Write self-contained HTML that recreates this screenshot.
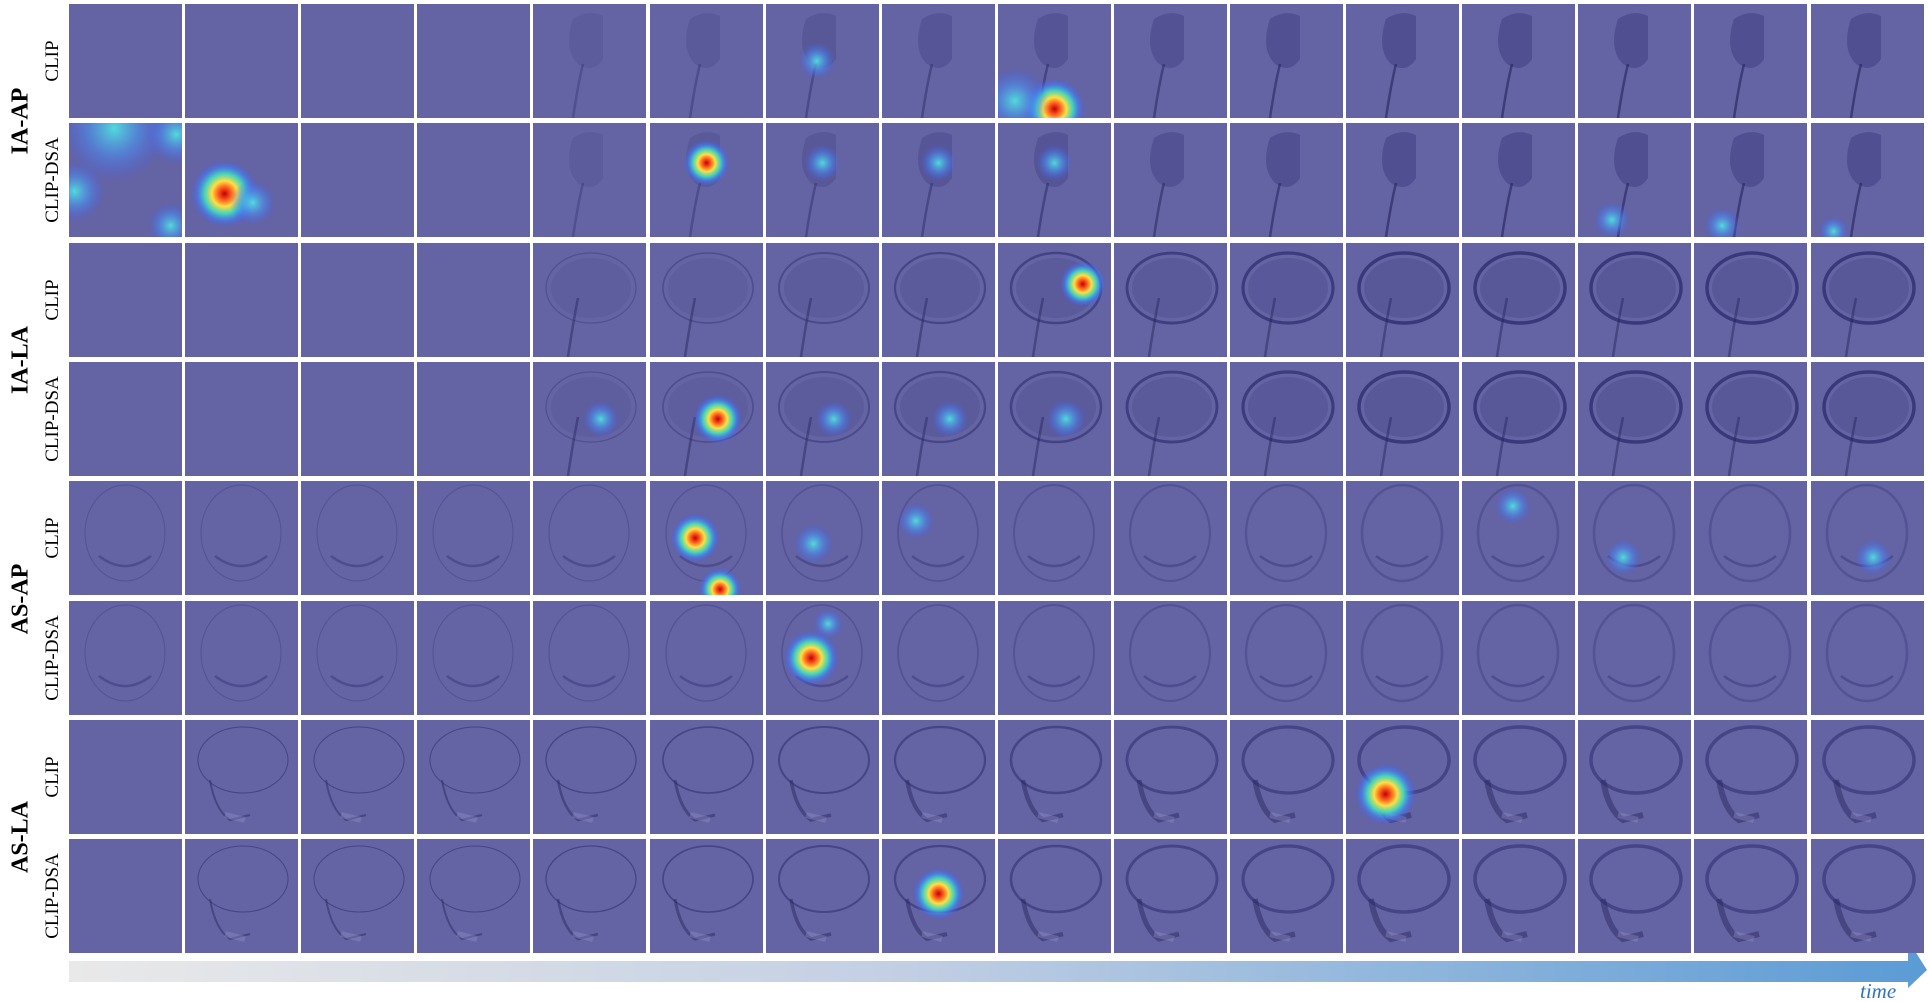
<!DOCTYPE html>
<html><head><meta charset="utf-8">
<style>
html,body{margin:0;padding:0;background:#fff;}
#root{position:relative;width:1928px;height:1002px;overflow:hidden;font-family:"Liberation Serif",serif;}
.tile{position:absolute;background:#6463a3;overflow:hidden;}
.tile svg{position:absolute;left:0;top:0;}
.grp{position:absolute;font-weight:bold;font-size:24px;transform:translate(-50%,-50%) rotate(-90deg);white-space:nowrap;color:#000;}
.sub{position:absolute;font-size:19px;transform:translate(-50%,-50%) rotate(-90deg);white-space:nowrap;color:#000;}
</style></head><body>
<div id="root">
<svg width="1928" height="1002" style="position:absolute;left:0;top:0">
<defs><linearGradient id="ag" x1="0" x2="1"><stop offset="0" stop-color="#e9e9e9"/><stop offset="0.45" stop-color="#c2cfe3"/><stop offset="1" stop-color="#5b9bd5"/></linearGradient></defs>
<polygon points="69,961 1908,961 1908,940 1927,970 1908,988 1908,982 69,982" fill="url(#ag)"/>
<text x="1860" y="998" font-family="Liberation Serif" font-style="italic" font-size="21" fill="#2e75c0">time</text>
</svg>
</div>
<script>
const groups=["IA-AP","IA-LA","AS-AP","AS-LA"];
const methods=["CLIP","CLIP-DSA"];
// heatmap blobs: [row, col, fx, fy, radius, hot]
const blobs=[
[0,8,0.5,0.92,0.2,1],[0,8,0.15,0.85,0.22,0],[0,6,0.45,0.5,0.12,0],
[1,0,0.4,0.05,0.35,0],[1,0,0.95,0.1,0.2,0],[1,0,0.05,0.6,0.2,0],[1,0,0.9,0.9,0.15,0],[1,1,0.35,0.62,0.22,1],[1,1,0.6,0.7,0.15,0],[1,5,0.5,0.35,0.15,1],[1,6,0.5,0.35,0.12,0],[1,7,0.5,0.35,0.12,0],[1,8,0.5,0.35,0.12,0],[1,13,0.3,0.85,0.12,0],[1,14,0.25,0.9,0.12,0],[1,15,0.2,0.95,0.1,0],
[2,8,0.75,0.36,0.15,1],
[3,4,0.6,0.5,0.12,0],[3,5,0.6,0.5,0.16,1],[3,6,0.6,0.5,0.12,0],[3,7,0.6,0.5,0.12,0],[3,8,0.6,0.5,0.13,0],
[4,5,0.4,0.5,0.16,1],[4,5,0.62,0.95,0.14,1],[4,6,0.42,0.55,0.13,0],[4,7,0.3,0.35,0.12,0],[4,12,0.45,0.22,0.12,0],[4,13,0.4,0.67,0.12,0],[4,15,0.55,0.67,0.12,0],
[5,6,0.4,0.5,0.18,1],[5,6,0.55,0.2,0.1,0],
[6,11,0.35,0.65,0.2,1],
[7,7,0.5,0.48,0.17,1]
];
const root=document.getElementById('root');
const X0=69,PX=116.1,W=113,Y0=4,PY=119.3,H=114;
for(let r=0;r<8;r++){
 for(let c=0;c<16;c++){
  const t=document.createElement('div');
  t.className='tile';
  
  
  t.style.left=(X0+c*PX)+'px';t.style.top=(Y0+r*PY)+'px';t.style.width=W+'px';t.style.height=H+'px';
  let s='<svg width="'+W+'" height="'+H+'">';
  const g=Math.floor(r/2);
  const op=Math.min(1,Math.max(0,(c-3)/8));
  if(g===0 && c>=4){
   s+='<path d="M40,15 Q55,5 70,12 L70,55 Q60,70 45,60 Q30,45 40,15Z" fill="#2a2a70" opacity="'+(0.1+0.25*op)+'"/>';
   s+='<path d="M50,60 Q45,80 40,114" stroke="#23235e" stroke-width="2.5" fill="none" opacity="'+(0.25+0.35*op)+'"/>';
  } else if(g===1 && c>=4){
   s+='<ellipse cx="58" cy="45" rx="45" ry="35" fill="none" stroke="#26266a" stroke-width="'+(1+2.5*op)+'" opacity="'+(0.25+0.45*op)+'"/>';
   s+='<ellipse cx="58" cy="45" rx="40" ry="30" fill="#2a2a70" opacity="'+(0.08+0.12*op)+'"/>';
   s+='<path d="M45,55 Q40,80 35,114" stroke="#23235e" stroke-width="2.5" fill="none" opacity="0.45"/>';
  } else if(g===2){
   s+='<ellipse cx="56" cy="52" rx="40" ry="48" fill="none" stroke="#3a3a80" stroke-width="'+(1+1.5*op)+'" opacity="0.4"/>';
   s+='<path d="M30,75 Q56,95 82,75" stroke="#2a2a70" stroke-width="2.5" fill="none" opacity="0.4"/>';
  } else if(g===3 && c>=1){
   s+='<ellipse cx="58" cy="40" rx="45" ry="33" fill="none" stroke="#26266a" stroke-width="'+(1+2.5*op)+'" opacity="0.5"/>';
   s+='<path d="M25,60 Q30,90 45,100 L65,95" stroke="#23235e" stroke-width="'+(2+4*op)+'" fill="none" opacity="0.45"/>';
   s+='<path d="M40,95 L60,100" stroke="#a0a0d8" stroke-width="6" opacity="0.3"/>';
  }
  blobs.forEach(b=>{
   if(b[0]===r&&b[1]===c){
    const id='g'+r+'_'+c+'_'+Math.round(b[2]*100)+'_'+Math.round(b[3]*100);
    const stops=b[5]?'<stop offset="0" stop-color="#c00000"/><stop offset="0.2" stop-color="#ff6020"/><stop offset="0.38" stop-color="#ffe040"/><stop offset="0.6" stop-color="#40e0c0" stop-opacity="0.9"/><stop offset="0.8" stop-color="#4080ff" stop-opacity="0.6"/><stop offset="1" stop-color="#4060ff" stop-opacity="0"/>':'<stop offset="0" stop-color="#50e8e0" stop-opacity="0.9"/><stop offset="0.5" stop-color="#4a90f0" stop-opacity="0.6"/><stop offset="1" stop-color="#4060ff" stop-opacity="0"/>';
    s+='<defs><radialGradient id="'+id+'">'+stops+'</radialGradient></defs>';
    s+='<circle cx="'+(b[2]*W)+'" cy="'+(b[3]*H)+'" r="'+(b[4]*W*1.35)+'" fill="url(#'+id+')"/>';
   }
  });
  s+='</svg>';
  t.innerHTML=s;
  root.appendChild(t);
 }
}
groups.forEach((gname,i)=>{
 const d=document.createElement('div');
 d.className='grp';
 
 
 d.textContent=gname;
 d.style.left='21px';d.style.top=(Y0+i*2*PY+PY-2)+'px';
 root.appendChild(d);
 methods.forEach((m,j)=>{
  const e=document.createElement('div');
  e.className='sub';
  
  
  e.textContent=m;
  e.style.left='53px';e.style.top=(Y0+(i*2+j)*PY+H/2)+'px';
  root.appendChild(e);
 });
});
</script>
</body></html>
